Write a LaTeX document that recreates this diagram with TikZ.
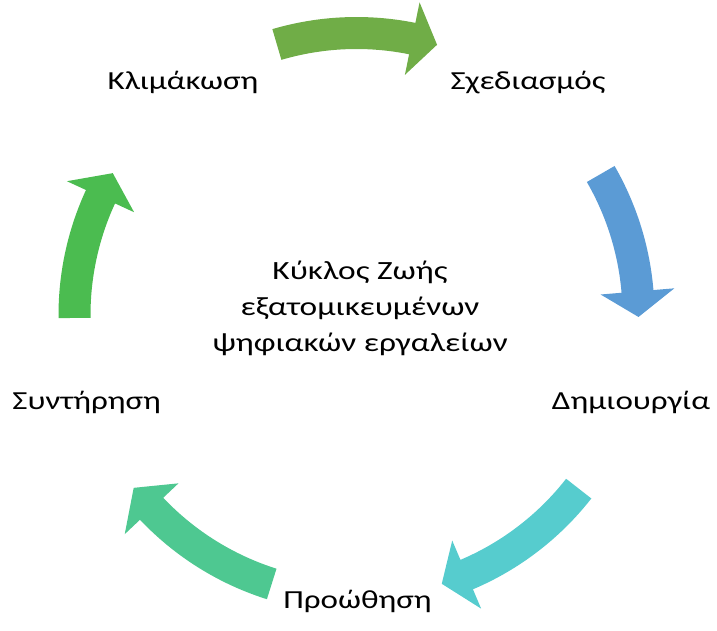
\documentclass[tikz,border=0pt]{standalone}
\usepackage{fontspec}
\setmainfont[FakeStretch=1.27]{Carlito}
\usepackage{tikz}
\usetikzlibrary{positioning}

\definecolor{greenA}{RGB}{112,173,71}
\definecolor{blueB}{RGB}{91,155,213}
\definecolor{tealC}{RGB}{86,204,206}
\definecolor{mintD}{RGB}{78,200,145}
\definecolor{greenE}{RGB}{75,188,80}

\tikzset{
    stage/.style={
           anchor=base,
           inner sep=0pt,
           font=\fontsize{18.5}{25.6}\selectfont,
           },
    hub/.style={
           align=center,
           inner sep=0pt,
           font=\fontsize{18.7}{25.6}\selectfont,
           },
}

\begin{document}
\begin{tikzpicture}[x=0.025cm,y=0.025cm]

 % canvas, origin at the middle of the cycle
 \useasboundingbox (-356.5,-316) rectangle (360.5,315);

 % the five stages
 \node[stage] (Klimakosi)   at (-173.5,225.7) {Κλιμάκωση};
 \node[stage] (Sxediasmos)  at (171.5,225.7)  {Σχεδιασμός};
 \node[stage] (Dimiourgia)  at (274.5,-94.3)  {Δημιουργία};
 \node[stage] (Proothisi)   at (1,-293.3)     {Προώθηση};
 \node[stage] (Syntirisi)   at (-269.8,-94.3) {Συντήρηση};

 % title in the middle
 \node[hub] (Title) at (3.5,7)
  {Κύκλος Ζωής\\ εξατομικευμένων\\ ψηφιακών εργαλείων};

 % curved block arrows: colour / tail angle / head base / tip
 \foreach \col/\ta/\hb/\tip in {greenA/106.4/78.6/73.4,
                                blueB/30/4.8/-0.4,
                                tealC/-38/-67/-72.4,
                                mintD/-107.5/-136.6/-142.2,
                                greenE/180.6/155.2/149.8}
 {
  \fill[\col] (\ta:298) arc[start angle=\ta, end angle=\hb, radius=298]
   -- (\hb:319) -- (\tip:282) -- (\hb:245) -- (\hb:266)
   arc[start angle=\hb, end angle=\ta, radius=266] -- cycle;
 }
\end{tikzpicture}
\end{document}
